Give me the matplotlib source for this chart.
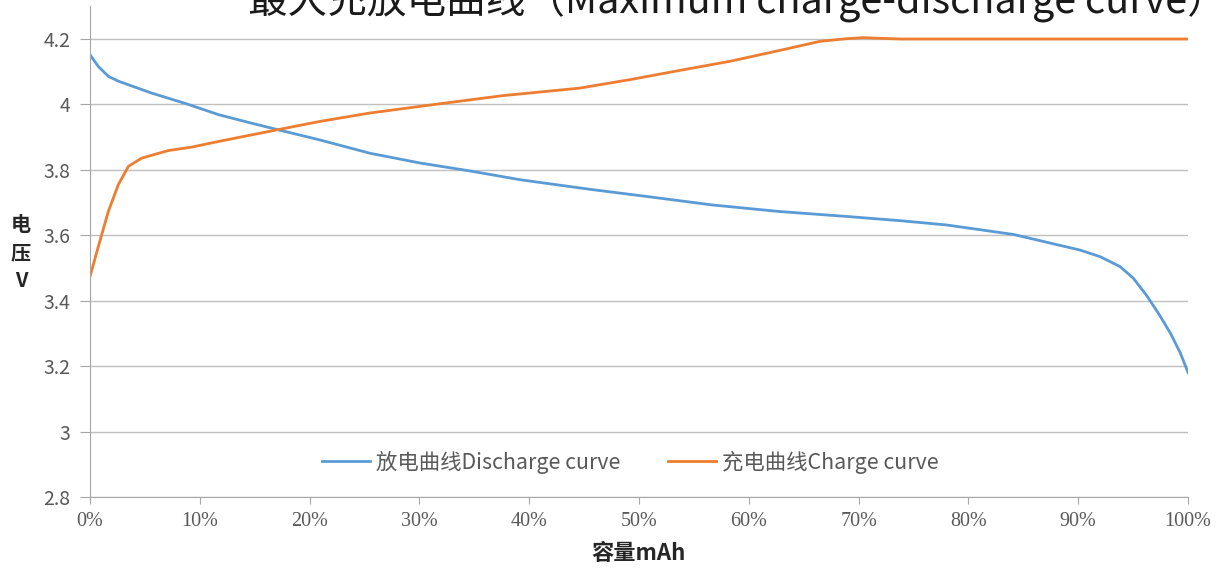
import matplotlib
matplotlib.use("Agg")
import matplotlib.pyplot as plt
from matplotlib.ticker import FuncFormatter

plt.rcParams['font.family'] = ['Noto Sans CJK SC', 'DejaVu Sans']

# capacity in %, voltage in V
dis_x = [0, 0.76, 1.67, 2.6, 5.6, 8.7, 11.7, 14.7, 17.1, 20.9, 25.5, 30.1, 34.6,
         39.2, 45.5, 50.7, 56.7, 62.8, 68.9, 73.8, 78, 84.1, 90.2, 92, 93.8, 95,
         96.2, 97.4, 98.4, 99.3, 100]
dis_v = [4.151, 4.115, 4.085, 4.07, 4.034, 4.002, 3.968, 3.942, 3.922, 3.891, 3.85,
         3.82, 3.796, 3.769, 3.74, 3.718, 3.692, 3.672, 3.657, 3.644, 3.631, 3.602,
         3.554, 3.534, 3.504, 3.469, 3.417, 3.356, 3.30, 3.24, 3.18]

chg_x = [0, 0.76, 1.67, 2.58, 3.5, 4.7, 7.1, 9.3, 11.7, 14.7, 17.1, 20.9, 25.5,
         31.6, 37.6, 44.6, 49.2, 53.7, 58.3, 62.8, 66.5, 68.9, 70.4, 73.8, 100]
chg_v = [3.473, 3.565, 3.672, 3.754, 3.81, 3.835, 3.858, 3.869, 3.886, 3.906, 3.922,
         3.947, 3.973, 4.0, 4.026, 4.049, 4.075, 4.103, 4.131, 4.164, 4.192, 4.2,
         4.203, 4.199, 4.199]

labels = ["放电曲线Discharge curve", "充电曲线Charge curve"]
title = "最大充放电曲线（Maximum charge-discharge curve）"

fig = plt.figure(figsize=(12.16, 5.71), dpi=100)
ax = fig.add_axes([0.074, 0.1296, 0.903, 0.86])

ax.plot(dis_x, dis_v, color="#5B9BD5", lw=2.0, label=labels[0])
ax.plot(chg_x, chg_v, color="#ED7D31", lw=2.0, label=labels[1])

ax.set_xlim(0, 100)
ax.set_ylim(2.8, 4.3)
ax.set_yticks([2.8, 3.0, 3.2, 3.4, 3.6, 3.8, 4.0, 4.2])
ax.yaxis.set_major_formatter(FuncFormatter(lambda v, p: ("%.1f" % v).rstrip("0").rstrip(".")))
ax.set_xticks(range(0, 101, 10))
ax.xaxis.set_major_formatter(FuncFormatter(lambda v, p: "%d%%" % v))

ax.grid(axis="y", color="#BFBFBF", lw=1)
ax.set_axisbelow(True)
for s in ["top", "right"]:
    ax.spines[s].set_visible(False)
for s in ["left", "bottom"]:
    ax.spines[s].set_color("#A6A6A6")
ax.tick_params(axis="y", colors="#A6A6A6", labelcolor="#595959", length=7, labelsize=14, pad=7)
ax.tick_params(axis="x", colors="#A6A6A6", labelcolor="#595959", length=5, labelsize=14.5, pad=6)
for t in ax.get_xticklabels():
    t.set_fontfamily("Liberation Serif")

ax.legend(loc="center", bbox_to_anchor=(0.492, 0.071), ncol=2, frameon=False,
          fontsize=15.4, handlelength=2.25, handletextpad=0.25, columnspacing=2.25,
          labelcolor="#595959")

fig.text(0.0173, 0.558, "电\n压\nV", ha="center", va="center", fontsize=14.5,
         fontweight="bold", linespacing=1.4, color="#262626")
fig.text(0.5255, 0.030, "容量mAh", ha="center", va="center", fontsize=16,
         fontweight="bold", color="#262626")
fig.text(0.606, 0.977, title, ha="center", va="baseline", fontsize=28.5, color="#1a1a1a")

fig.savefig("out.png", dpi=100)
